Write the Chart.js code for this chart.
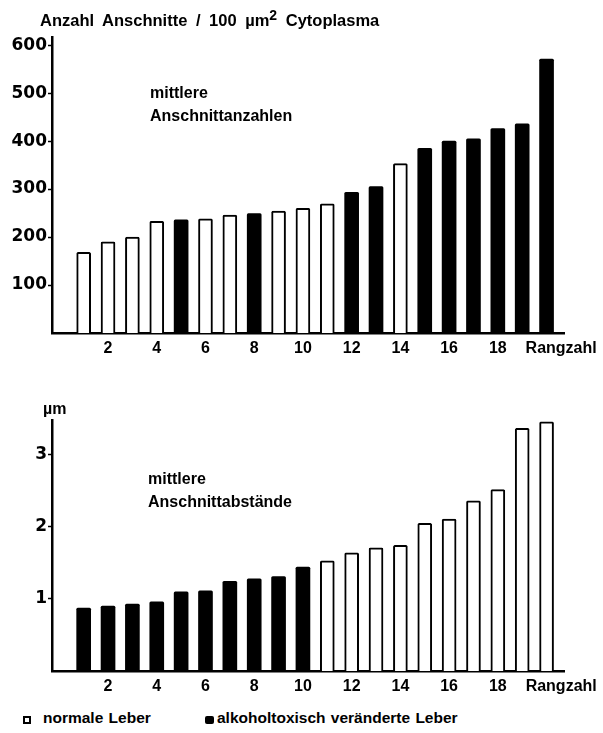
<!DOCTYPE html>
<html><head><meta charset="utf-8">
<script src="https://cdn.jsdelivr.net/npm/chart.js@4.4.1/dist/chart.umd.min.js"></script>
<style>
html,body{margin:0;padding:0;background:#fff;width:603px;height:733px;overflow:hidden}
body{position:relative;font-family:"Liberation Sans",Arial,sans-serif;font-weight:bold;color:#000}
.t{position:absolute;font-size:16px;line-height:16px;white-space:nowrap;word-spacing:4px}
.lg{word-spacing:1px;font-size:15.5px}
canvas{position:absolute;left:0}
.box{position:absolute}
</style></head><body>
<canvas id="c1" width="603" height="360" style="top:0;width:603px;height:360px"></canvas>
<canvas id="c2" width="603" height="312" style="top:390px;width:603px;height:312px"></canvas>
<div class="t" style="left:40px;top:12px;font-size:16.5px">Anzahl Anschnitte / 100 µm<span style="font-size:14px;position:relative;top:-6px">2</span> Cytoplasma</div>
<div class="t" style="left:150px;top:85px">mittlere</div>
<div class="t" style="left:150px;top:108px">Anschnittanzahlen</div>
<div class="t" style="left:43px;top:401px">µm</div>
<div class="t" style="left:148px;top:471px">mittlere</div>
<div class="t" style="left:148px;top:494px">Anschnittabstände</div>
<div class="box" style="left:23px;top:716px;width:4px;height:4px;border:2px solid #000;background:#fff"></div>
<div class="t lg" style="left:43px;top:710px">normale Leber</div>
<div class="box" style="left:205px;top:716px;width:9px;height:8px;background:#000;border-radius:2px"></div>
<div class="t lg" style="left:217px;top:710px">alkoholtoxisch veränderte Leber</div>
<script>
const ranks = [1,2,3,4,5,6,7,8,9,10,11,12,13,14,15,16,17,18,19,20];
const anzahlValues = [168,190,200,233,236,238,246,249,254,260,269,293,305,353,385,400,405,426,436,571];
const anzahlGroups = ['n','n','n','n','a','n','n','a','n','n','n','a','a','n','a','a','a','a','a','a'];
const abstandValues = [0.875,0.90,0.93,0.96,1.10,1.115,1.245,1.28,1.31,1.445,1.53,1.64,1.71,1.745,2.05,2.11,2.365,2.52,3.37,3.46];
const abstandGroups = ['a','a','a','a','a','a','a','a','a','a','n','n','n','n','n','n','n','n','n','n'];
const anzahlTicks = [100,200,300,400,500,600];
const abstandTicks = [1,2,3];
const rankTicks = [2,4,6,8,10,12,14,16,18];
const rankAxisName = 'Rangzahl';
const seriesNames = {n:'normale Leber', a:'alkoholtoxisch veränderte Leber'};

function buildDatasets(values, groups){
  return ['n','a'].map(g => ({
    label: seriesNames[g],
    data: ranks.map((r,i)=>({x:r, y:values[i], g:groups[i]})).filter(p=>p.g===g),
    backgroundColor: g==='n' ? '#fff' : '#000',
    borderColor: '#000',
    borderWidth: g==='n' ? 2 : 0,
    borderRadius: 1.5,
    borderSkipped: 'bottom',
    barThickness: 14,
    grouped: false
  }));
}

function makeChart(id, values, groups, yMax, yTicks, pad, xHeight){
  return new Chart(document.getElementById(id), {
    type: 'bar',
    data: { datasets: buildDatasets(values, groups) },
    options: {
      responsive: false,
      devicePixelRatio: 1,
      animation: false,
      layout: { padding: pad },
      plugins: { legend: {display:false}, tooltip: {enabled:false}, title:{display:false} },
      scales: {
        x: {
          type: 'linear', min: -0.3, max: 20.75, z: 1, offset: false,
          afterBuildTicks: s => { s.ticks = rankTicks.map(v=>({value:v})).concat([{value:20.6}]); },
          afterFit: s => { s.height = xHeight; },
          ticks: { autoSkip:false, maxRotation:0, color:'#000', padding:6,
                   font:{family:'Liberation Sans', weight:'bold', size:16},
                   callback: v => v > 20 ? rankAxisName : String(v) },
          grid: { display:true, drawOnChartArea:false, drawTicks:false, offset:false },
          border: { display:true, color:'#000', width:2.5 }
        },
        y: {
          min: 0, max: yMax, z: 1,
          afterBuildTicks: s => { s.ticks = yTicks.map(v=>({value:v})); },
          afterFit: s => { s.width = 52; },
          ticks: { color:'#000', padding:1,
                   font:{family:'DejaVu Sans', weight:'bold', size:17},
                   callback: v => String(v) },
          grid: { display:true, drawOnChartArea:false, drawTicks:true, tickLength:4, tickWidth:1.5, tickColor:'#000', color:'#000' },
          border: { display:true, color:'#000', width:2.5 }
        }
      }
    }
  });
}

makeChart('c1', anzahlValues, anzahlGroups, 617, anzahlTicks, {top:37, right:38, left:0, bottom:0}, 27);
makeChart('c2', abstandValues, abstandGroups, 3.486, abstandTicks, {top:30, right:36, left:0, bottom:0}, 31);
</script>
</body></html>
